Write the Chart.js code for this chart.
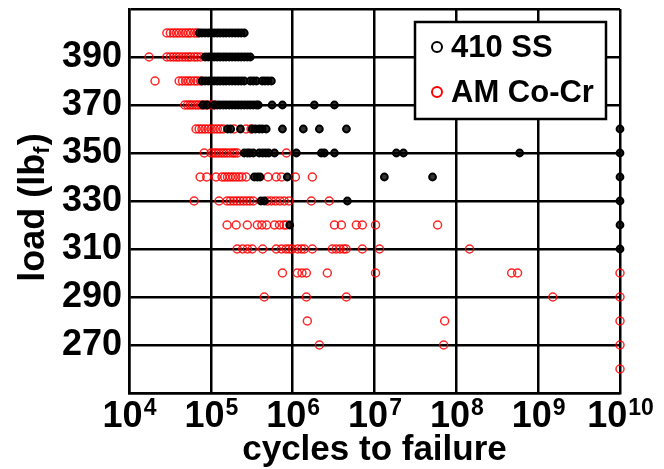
<!DOCTYPE html>
<html>
<head>
<meta charset="utf-8">
<script src="https://cdn.jsdelivr.net/npm/chart.js@4.4.1/dist/chart.umd.min.js"></script>
<style>
  html, body { margin: 0; padding: 0; background: #fff; }
  #wrap { position: relative; width: 664px; height: 469px; }
</style>
</head>
<body>
<div id="wrap"><canvas id="chart"></canvas></div>
<script>
const FONT = '"Liberation Sans", Arial, sans-serif';

const loads = [400, 390, 380, 370, 360, 350, 340, 330, 320, 310, 300, 290, 280, 270, 260];

// 410 SS - cycles to failure per load level (same order as loads)
const ssCycles = [
  [7.2e4, 7.8e4, 8.5e4, 9.3e4, 1.01e5, 1.1e5, 1.2e5, 1.3e5, 1.42e5, 1.54e5, 1.68e5, 1.82e5, 1.99e5, 2.16e5, 2.35e5, 2.56e5],
  [8.5e4, 9.3e4, 1.01e5, 1.1e5, 1.2e5, 1.3e5, 1.42e5, 1.54e5, 1.68e5, 1.82e5, 1.99e5, 2.16e5, 2.35e5, 2.56e5, 2.79e5, 3.03e5],
  [7.8e4, 8.5e4, 9.3e4, 1.01e5, 1.1e5, 1.2e5, 1.3e5, 1.42e5, 1.54e5, 1.68e5, 1.82e5, 1.99e5, 2.16e5, 2.35e5, 2.56e5, 3.03e5, 3.3e5, 3.6e5, 4.25e5, 4.6e5, 5.0e5, 5.5e5],
  [8.0e4, 9.0e4, 1.1e5, 1.2e5, 1.3e5, 1.42e5, 1.54e5, 1.68e5, 1.82e5, 1.99e5, 2.16e5, 2.35e5, 2.56e5, 2.79e5, 3.03e5, 3.3e5, 3.6e5, 3.8e5, 5.6e5, 7.5e5, 1.84e6, 3.24e6],
  [1.6e5, 1.75e5, 2.3e5, 3.2e5, 3.5e5, 3.9e5, 4.25e5, 4.75e5, 7.5e5, 1.35e6, 2.12e6, 4.54e6, 1e10],
  [2.56e5, 2.8e5, 3.0e5, 3.3e5, 3.9e5, 4.3e5, 4.7e5, 5.1e5, 6.0e5, 1.11e6, 2.24e6, 2.44e6, 3.24e6, 1.85e7, 2.26e7, 5.94e8, 1e10],
  [3.4e5, 3.7e5, 4.0e5, 8.6e5, 1.32e7, 5.12e7, 1e10],
  [4.1e5, 4.5e5, 4.66e6, 1e10],
  [9.2e5, 1e10],
  [1e10],
  [], [], [], [], []
];

// AM Co-Cr
const coCycles = [
  [2.9e4, 3.2e4, 3.5e4, 3.8e4, 4.1e4, 4.5e4, 4.9e4, 5.3e4, 5.7e4, 6.3e4, 6.8e4],
  [1.76e4, 2.9e4, 3.2e4, 3.5e4, 3.8e4, 4.1e4, 4.5e4, 4.9e4, 5.3e4, 5.7e4, 6.3e4, 6.8e4, 7.5e4],
  [2.08e4, 4.1e4, 4.5e4, 4.9e4, 5.3e4, 5.7e4, 6.3e4, 6.8e4, 7.5e4],
  [4.8e4, 5.2e4, 5.6e4, 6.0e4, 6.5e4, 7.0e4, 7.6e4, 8.3e4, 9.0e4, 1.0e5, 1.1e5],
  [6.6e4, 7.2e4, 7.8e4, 8.5e4, 9.3e4, 1.01e5, 1.1e5, 1.2e5, 1.3e5, 1.42e5, 1.93e5, 2.7e5, 3.1e5],
  [8.3e4, 1.01e5, 1.08e5, 1.16e5, 1.25e5, 1.35e5, 1.45e5, 1.56e5, 1.7e5, 1.85e5, 1.95e5, 2.1e5, 8.4e5],
  [7.4e4, 8.9e4, 1.16e5, 1.37e5, 1.48e5, 1.6e5, 1.73e5, 1.87e5, 2.02e5, 2.2e5, 2.4e5, 2.7e5, 5.0e5, 6.3e5, 7.3e5, 1.08e6, 1.74e6],
  [6.25e4, 1.26e5, 1.58e5, 1.73e5, 1.9e5, 2.08e5, 2.28e5, 2.5e5, 2.75e5, 3.0e5, 3.3e5, 4.9e5, 5.5e5, 6.2e5, 7.0e5, 7.9e5, 9.0e5, 1.69e6, 2.8e6],
  [1.58e5, 2.04e5, 2.79e5, 3.7e5, 4.2e5, 4.8e5, 6.0e5, 6.9e5, 7.8e5, 8.4e5, 3.24e6, 3.94e6, 6.0e6, 7.1e6, 1.03e7, 5.9e7],
  [2.1e5, 2.45e5, 2.8e5, 3.2e5, 4.3e5, 6.3e5, 7.3e5, 8.3e5, 9.1e5, 9.9e5, 1.15e6, 1.28e6, 1.39e6, 1.74e6, 3.05e6, 3.4e6, 3.8e6, 4.2e6, 4.5e6, 7.1e6, 1.15e7, 1.45e8],
  [7.5e5, 1.14e6, 1.3e6, 1.47e6, 2.65e6, 1.03e7, 4.74e8, 5.6e8, 1e10],
  [4.5e5, 1.47e6, 4.53e6, 1.51e9, 1e10],
  [1.51e6, 7.2e7, 1e10],
  [2.12e6, 7.0e7, 1e10],
  [1e10]
];

const yTickLabels = [270, 290, 310, 330, 350, 370, 390];
const xDecades = [4, 5, 6, 7, 8, 9, 10];

const toPoints = (rows) => rows.flatMap((row, i) => row.map((c) => ({ x: c, y: loads[i] })));

// x tick labels (10^n), axis titles and the boxed legend
const annotations = {
  id: 'annotations',
  afterDraw(chart) {
    const ctx = chart.ctx;
    const xs = chart.scales.x;
    ctx.save();
    ctx.fillStyle = '#000';
    ctx.textBaseline = 'alphabetic';

    xDecades.forEach((e) => {
      const cx = xs.getPixelForValue(Math.pow(10, e));
      ctx.font = 'bold 36px ' + FONT;
      const wBase = ctx.measureText('10').width;
      ctx.font = 'bold 23px ' + FONT;
      const wExp = ctx.measureText(String(e)).width;
      const start = cx - (wBase + wExp) / 2;
      ctx.font = 'bold 36px ' + FONT;
      ctx.textAlign = 'left';
      ctx.fillText('10', start, 427);
      ctx.font = 'bold 23px ' + FONT;
      ctx.fillText(String(e), start + wBase + 1, 415);
    });

    ctx.font = 'bold 35px ' + FONT;
    ctx.textAlign = 'center';
    ctx.fillText('cycles to failure', (chart.chartArea.left + chart.chartArea.right) / 2, 460);

    // y title with subscript f
    ctx.translate(34, 208);
    ctx.rotate(-Math.PI / 2);
    ctx.textAlign = 'left';
    ctx.textBaseline = 'middle';
    ctx.font = 'bold 36px ' + FONT;
    const p1 = 'load (lb', p3 = ')';
    const w1 = ctx.measureText(p1).width, w3 = ctx.measureText(p3).width;
    ctx.font = 'bold 22px ' + FONT;
    const w2 = ctx.measureText('f').width;
    let x0 = -(w1 + w2 + w3) / 2;
    ctx.font = 'bold 36px ' + FONT;
    ctx.fillText(p1, x0, 0);
    ctx.font = 'bold 22px ' + FONT;
    ctx.fillText('f', x0 + w1, 9);
    ctx.font = 'bold 36px ' + FONT;
    ctx.fillText(p3, x0 + w1 + w2 + 1, 0);
    ctx.restore();

    // legend box
    ctx.save();
    ctx.fillStyle = '#fff';
    ctx.fillRect(415, 22, 191, 97);
    ctx.strokeStyle = '#000';
    ctx.lineWidth = 2.5;
    ctx.strokeRect(415, 22, 191, 97);
    const entries = [['410 SS', '#000', 47], ['AM Co-Cr', '#ff0000', 92]];
    entries.forEach(([label, color, y]) => {
      ctx.beginPath();
      ctx.arc(437, y, 5, 0, Math.PI * 2);
      ctx.strokeStyle = color;
      ctx.lineWidth = 2;
      ctx.stroke();
      ctx.fillStyle = '#000';
      ctx.font = 'bold 31px ' + FONT;
      ctx.textAlign = 'left';
      ctx.textBaseline = 'middle';
      ctx.fillText(label, 451, y + 1);
    });
    ctx.restore();
  }
};

new Chart(document.getElementById('chart'), {
  type: 'scatter',
  data: {
    datasets: [
      {
        label: '410 SS',
        data: toPoints(ssCycles),
        borderColor: '#000',
        backgroundColor: 'rgba(0,0,0,0.8)',
        pointRadius: 3.4,
        borderWidth: 2,
        clip: false
      },
      {
        label: 'AM Co-Cr',
        data: toPoints(coCycles),
        borderColor: 'rgba(255,0,0,0.85)',
        backgroundColor: 'rgba(0,0,0,0)',
        pointRadius: 4,
        borderWidth: 1.5,
        clip: false
      }
    ]
  },
  options: {
    responsive: true,
    maintainAspectRatio: false,
    animation: false,
    events: [],
    layout: { padding: { top: 9, right: 44, left: 0, bottom: 0 } },
    plugins: { legend: { display: false }, tooltip: { enabled: false } },
    scales: {
      x: {
        type: 'logarithmic',
        min: 1e4,
        max: 1e10,
        afterBuildTicks: (scale) => {
          scale.ticks = xDecades.map((e) => ({ value: Math.pow(10, e) }));
        },
        afterFit: (scale) => {
          scale.height = 76;
          scale.paddingLeft = 0;
          scale.paddingRight = 0;
        },
        ticks: { display: false },
        grid: { color: '#000', lineWidth: 2.5, drawTicks: false },
        border: { color: '#000', width: 2.5 }
      },
      y: {
        min: 250,
        max: 410,
        afterFit: (scale) => {
          scale.width = 129;
          scale.paddingTop = 0;
          scale.paddingBottom = 0;
        },
        ticks: {
          stepSize: 10,
          padding: 7,
          color: '#000',
          font: { family: FONT, size: 36, weight: 'bold' },
          callback: (v) => (yTickLabels.includes(v) ? String(v) : '')
        },
        grid: { color: '#000', lineWidth: 2.5, drawTicks: false },
        border: { color: '#000', width: 2.5 }
      }
    }
  },
  plugins: [annotations]
});
</script>
</body>
</html>
